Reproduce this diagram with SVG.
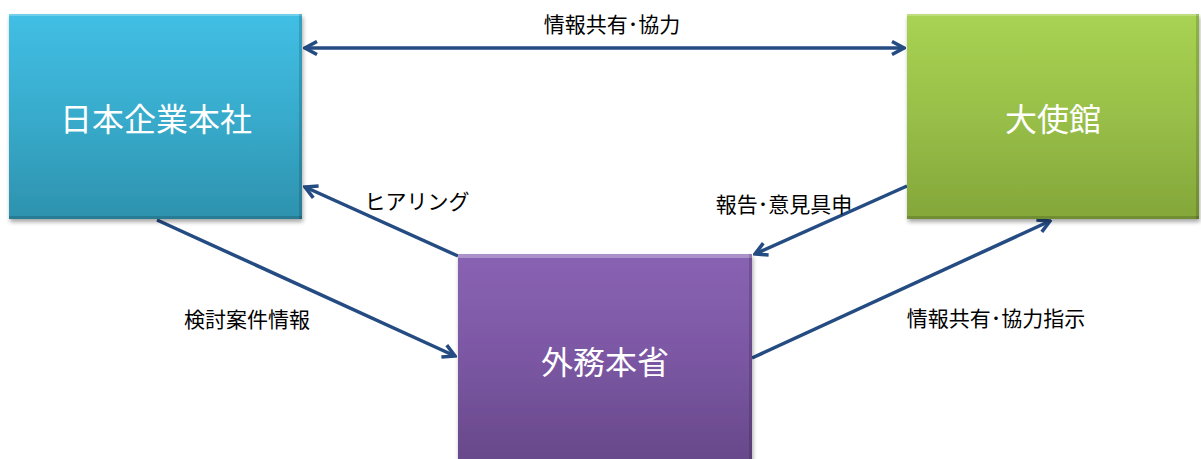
<svg xmlns="http://www.w3.org/2000/svg" width="1201" height="459" viewBox="0 0 1201 459">
<defs>
<style>
.lbl{font-family:"Noto Sans CJK JP","Noto Sans",sans-serif;font-size:21px;fill:#000;text-anchor:middle;dominant-baseline:central}
.ttl{font-family:"Noto Sans CJK JP","Noto Sans",sans-serif;font-size:32px;fill:#fff;text-anchor:middle;dominant-baseline:central}
.con{fill:none;stroke:#244c83;stroke-width:3.5}
.hi{fill:#fff;opacity:0.25}
.lo{fill:#000;opacity:0.15}
</style>
<linearGradient id="gBlue" x1="0" y1="0" x2="0" y2="1">
<stop offset="0" stop-color="#41bfe4"/>
<stop offset="0.5" stop-color="#38abcc"/>
<stop offset="1" stop-color="#2d92ae"/>
</linearGradient>
<linearGradient id="gGreen" x1="0" y1="0" x2="0" y2="1">
<stop offset="0" stop-color="#a8d353"/>
<stop offset="0.5" stop-color="#98bf48"/>
<stop offset="1" stop-color="#84a63a"/>
</linearGradient>
<linearGradient id="gPurple" x1="0" y1="0" x2="0" y2="1">
<stop offset="0" stop-color="#8963b3"/>
<stop offset="0.5" stop-color="#7b57a3"/>
<stop offset="1" stop-color="#674889"/>
</linearGradient>
<filter id="sh" x="-5%" y="-5%" width="112%" height="115%">
<feGaussianBlur in="SourceAlpha" stdDeviation="2"/>
<feOffset dx="1" dy="3"/>
<feComponentTransfer><feFuncA type="linear" slope="0.35"/></feComponentTransfer>
<feMerge><feMergeNode/><feMergeNode in="SourceGraphic"/></feMerge>
</filter>
<marker id="arr" viewBox="-14 -8 16 16" refX="0" refY="0" markerWidth="16" markerHeight="16" markerUnits="userSpaceOnUse" orient="auto-start-reverse">
<path d="M-12,-6.5 L0,0 L-12,6.5" fill="none" stroke="#244c83" stroke-width="3.5" stroke-linejoin="miter"/>
</marker>
</defs>
<rect width="1201" height="459" fill="#fff"/>

<g id="connectors">
<line class="con" x1="305" y1="48" x2="904" y2="48" marker-start="url(#arr)" marker-end="url(#arr)"/>
<line class="con" x1="458" y1="256" x2="305" y2="187" marker-end="url(#arr)"/>
<line class="con" x1="157" y1="220" x2="455" y2="356" marker-end="url(#arr)"/>
<line class="con" x1="907" y1="186" x2="755" y2="254" marker-end="url(#arr)"/>
<line class="con" x1="752" y1="358" x2="1050" y2="221" marker-end="url(#arr)"/>
<text class="lbl" x="612" y="23">情報共有･協力</text>
<text class="lbl" x="417" y="200">ヒアリング</text>
<text class="lbl" x="247" y="318">検討案件情報</text>
<text class="lbl" x="784" y="203">報告･意見具申</text>
<text class="lbl" x="996" y="317">情報共有･協力指示</text>
</g>

<g id="node-company">
<rect x="9" y="14" width="293" height="205" fill="url(#gBlue)" filter="url(#sh)"/>
<rect class="hi" x="9" y="14" width="293" height="2"/>
<rect class="lo" x="9" y="216" width="293" height="3"/>
<rect class="lo" x="299" y="14" width="3" height="205"/>
<text class="ttl" x="156" y="117">日本企業本社</text>
</g>

<g id="node-embassy">
<rect x="907" y="14" width="292" height="205" fill="url(#gGreen)" filter="url(#sh)"/>
<rect class="hi" x="907" y="14" width="292" height="2"/>
<rect class="lo" x="907" y="216" width="292" height="3"/>
<rect class="lo" x="1196" y="14" width="3" height="205"/>
<text class="ttl" x="1053" y="117">大使館</text>
</g>

<g id="node-mofa">
<rect x="458" y="254" width="294" height="210" fill="url(#gPurple)" filter="url(#sh)"/>
<rect x="458" y="254" width="294" height="4" fill="#fff" opacity="0.3"/>
<rect class="lo" x="749" y="254" width="3" height="210"/>
<text class="ttl" x="605" y="360">外務本省</text>
</g>
</svg>
